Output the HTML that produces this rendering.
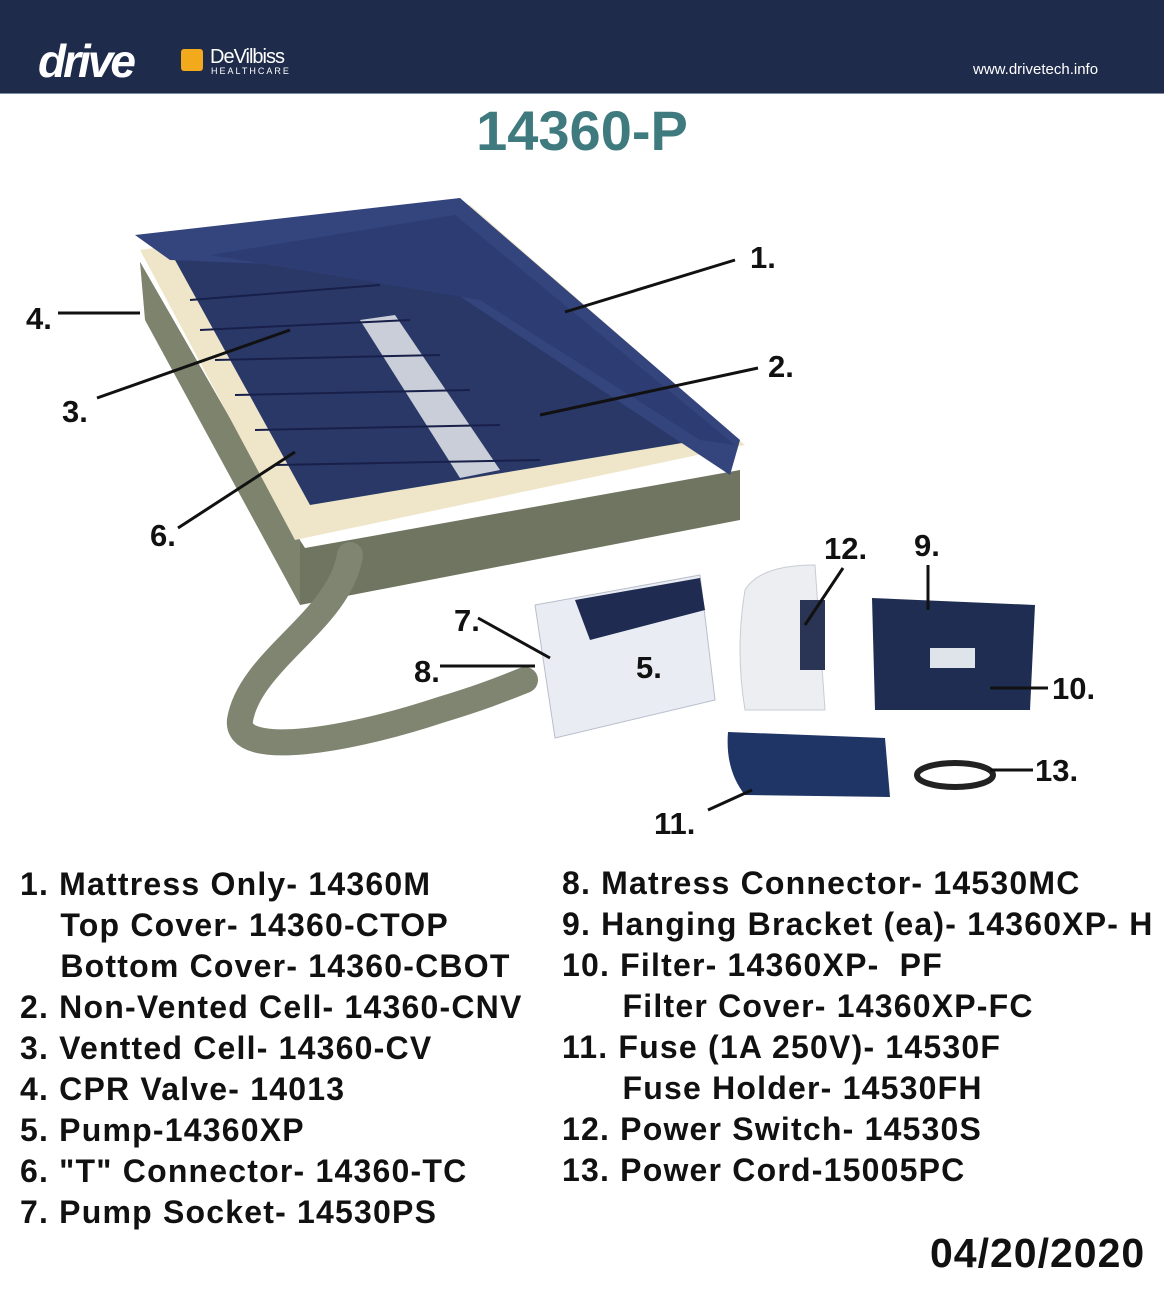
<!DOCTYPE html>
<html><head><style>
body{margin:0;width:1164px;height:1304px;background:#fff;position:relative;overflow:hidden;font-family:"Liberation Sans",Arial,sans-serif}
.hdr{position:absolute;left:0;top:0;width:1164px;height:93px;background:#1f2b4b;border-bottom:1px solid #7a8aa0}
.t{position:absolute;font-weight:bold;font-size:31px;color:#111;white-space:pre;line-height:1}
.l{letter-spacing:1.2px;font-size:32px;line-height:41px}
</style></head><body>
<div class="hdr">
<div style="position:absolute;left:38px;top:34px;font:italic bold 46px 'Liberation Sans',sans-serif;color:#fff;letter-spacing:-3px">drive</div>
<div style="position:absolute;left:181px;top:49px;width:22px;height:22px;background:#f2a91c;border-radius:3px"></div>
<div style="position:absolute;left:210px;top:46px;font:20px 'Liberation Sans',sans-serif;color:#fff;letter-spacing:-1px">DeVilbiss</div>
<div style="position:absolute;left:211px;top:66px;font:9px 'Liberation Sans',sans-serif;color:#fff;letter-spacing:2px">HEALTHCARE</div>
<div style="position:absolute;left:973px;top:61px;font:15px 'Liberation Sans',sans-serif;color:#fff">www.drivetech.info</div>
</div>
<div style="position:absolute;left:0;width:1164px;top:98px;text-align:center;font:bold 56px 'Liberation Sans',sans-serif;color:#3f7a7f">14360-P</div>

<svg style="position:absolute;left:0;top:0" width="1164" height="860">
<polygon points="140,262 300,540 300,605 740,520 740,470 305,548 145,300" fill="#6f7560"/>
<polygon points="140,262 145,320 300,605 300,540" fill="#7d836c"/>
<polygon points="140,250 470,205 745,445 295,540" fill="#efe6c9"/>
<polygon points="175,260 450,228 700,440 310,505" fill="#2a3868"/>
<polygon points="360,320 395,315 500,470 460,478" fill="#c9ced8"/>
<polygon points="135,235 460,198 740,440 730,475 420,270 170,260" fill="#34447d"/>
<polygon points="210,255 455,215 735,445 700,440 480,300" fill="#2d3c72"/>
<g stroke="#18204a" stroke-width="2">
<line x1="190" y1="300" x2="380" y2="285"/><line x1="200" y1="330" x2="410" y2="320"/><line x1="215" y1="360" x2="440" y2="355"/><line x1="235" y1="395" x2="470" y2="390"/><line x1="255" y1="430" x2="500" y2="425"/><line x1="275" y1="465" x2="540" y2="460"/>
</g>
<path d="M350,555 C340,620 250,660 240,720 C235,760 350,740 440,710 C480,698 500,690 525,680" stroke="#7f8570" stroke-width="26" fill="none" stroke-linecap="round"/>
<polygon points="535,605 700,575 715,700 555,738" fill="#e9ecf3" stroke="#b8bfcc"/>
<polygon points="575,600 700,578 705,610 590,640" fill="#1f2b50"/>
<path d="M745,590 Q760,565 815,565 L825,710 L745,710 Q735,650 745,590Z" fill="#eceef2" stroke="#c8ccd4"/>
<rect x="800" y="600" width="25" height="70" fill="#2a3454"/>
<polygon points="872,598 1035,605 1030,710 875,710" fill="#1f2d52"/>
<rect x="930" y="648" width="45" height="20" fill="#dfe3ea"/>
<path d="M728,732 L885,738 L890,797 L745,795 Q725,770 728,732Z" fill="#1f3566"/>
<ellipse cx="955" cy="775" rx="38" ry="12" fill="none" stroke="#222" stroke-width="6"/>
<g stroke="#111" stroke-width="3" fill="none">
<line x1="565" y1="312" x2="735" y2="260"/>
<line x1="540" y1="415" x2="758" y2="368"/>
<line x1="97" y1="398" x2="290" y2="330"/>
<line x1="58" y1="313" x2="140" y2="313"/>
<line x1="178" y1="528" x2="295" y2="452"/>
<line x1="478" y1="618" x2="550" y2="658"/>
<line x1="440" y1="666" x2="535" y2="666"/>
<line x1="805" y1="625" x2="843" y2="568"/>
<polyline points="928,565 928,610"/>
<line x1="990" y1="688" x2="1048" y2="688"/>
<line x1="990" y1="770" x2="1033" y2="770"/>
<line x1="708" y1="810" x2="752" y2="790"/>
</g>
</svg>
<div class="t" style="left:750px;top:242px">1.</div>
<div class="t" style="left:768px;top:351px">2.</div>
<div class="t" style="left:62px;top:396px">3.</div>
<div class="t" style="left:26px;top:303px">4.</div>
<div class="t" style="left:636px;top:652px">5.</div>
<div class="t" style="left:150px;top:520px">6.</div>
<div class="t" style="left:454px;top:605px">7.</div>
<div class="t" style="left:414px;top:656px">8.</div>
<div class="t" style="left:914px;top:530px">9.</div>
<div class="t" style="left:1052px;top:673px">10.</div>
<div class="t" style="left:654px;top:808px">11.</div>
<div class="t" style="left:824px;top:533px">12.</div>
<div class="t" style="left:1035px;top:755px">13.</div>

<div class="t l" style="left:20px;top:864px">1. Mattress Only- 14360M
    Top Cover- 14360-CTOP
    Bottom Cover- 14360-CBOT
2. Non-Vented Cell- 14360-CNV
3. Ventted Cell- 14360-CV
4. CPR Valve- 14013
5. Pump-14360XP
6. "T" Connector- 14360-TC
7. Pump Socket- 14530PS</div>
<div class="t l" style="left:562px;top:863px">8. Matress Connector- 14530MC
9. Hanging Bracket (ea)- 14360XP- H
10. Filter- 14360XP-  PF
      Filter Cover- 14360XP-FC
11. Fuse (1A 250V)- 14530F
      Fuse Holder- 14530FH
12. Power Switch- 14530S
13. Power Cord-15005PC</div>
<div class="t" style="left:930px;top:1233px;font-size:41px;letter-spacing:1px">04/20/2020</div>
</body></html>
